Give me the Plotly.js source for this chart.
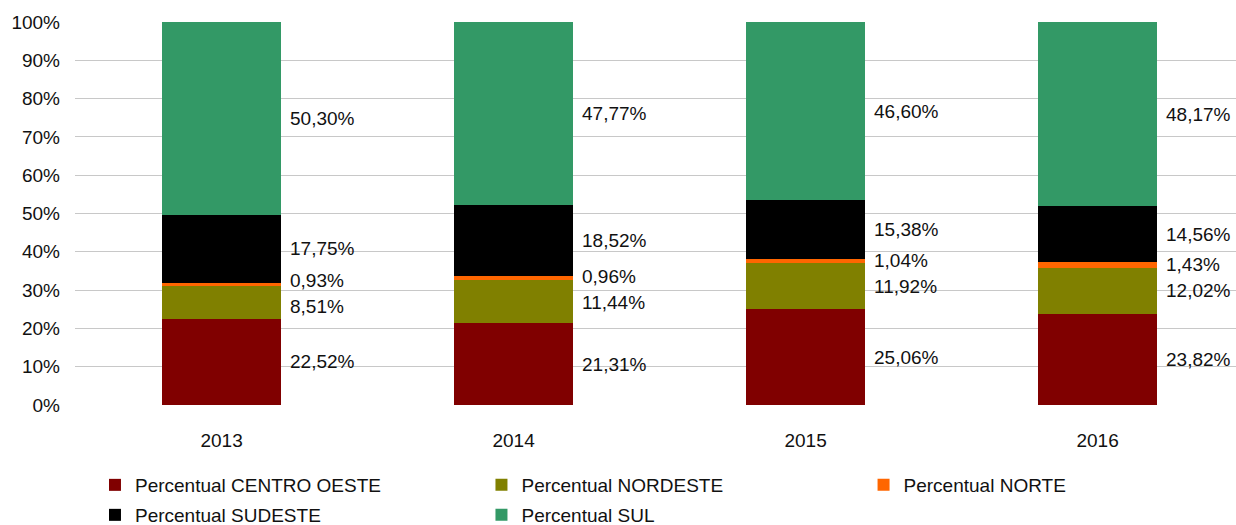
<!DOCTYPE html>
<html>
<head>
<meta charset="utf-8">
<script src="https://cdn.plot.ly/plotly-3.0.1.min.js"></script>
<style>html,body{margin:0;padding:0;background:#fff;}#chart{width:1236px;height:525px;}</style>
</head>
<body>
<div id="chart"></div>
<script>
var years = ['2013', '2014', '2015', '2016'];
var seriesNames = ['Percentual CENTRO OESTE', 'Percentual NORDESTE', 'Percentual NORTE', 'Percentual SUDESTE', 'Percentual SUL'];
var centroOeste = [22.52, 21.31, 25.06, 23.82];
var nordeste = [8.51, 11.44, 11.92, 12.02];
var norte = [0.93, 0.96, 1.04, 1.43];
var sudeste = [17.75, 18.52, 15.38, 14.56];
var sul = [50.30, 47.77, 46.60, 48.17];
var colors = ['#800000', '#808000', '#ff6600', '#000000', '#339966'];
var yTicks = [0, 10, 20, 30, 40, 50, 60, 70, 80, 90, 100];

var allSeries = [centroOeste, nordeste, norte, sudeste, sul];
var fontFam = '"Liberation Sans", Arial, sans-serif';

// legend grid: column x (paper) and row y (paper) for each series
var legendIds = ['legend', 'legend2', 'legend3', 'legend4', 'legend5'];
var legendX = [0.0172, 0.3501, 0.6792, 0.0172, 0.3501];
var legendY = [-0.2089, -0.2089, -0.2089, -0.2872, -0.2872];

function fmt(v) { return v.toFixed(2).replace('.', ',') + '%'; }

var traces = allSeries.map(function (vals, i) {
  return {
    type: 'bar',
    name: seriesNames[i],
    x: years,
    y: vals,
    width: 0.407,
    legend: legendIds[i],
    marker: { color: colors[i], line: { width: 0 } },
    hoverinfo: 'skip'
  };
});

// label positions: segment centres, pushed apart when too close
var annotations = [];
var minGap = 6.8;
years.forEach(function (yr, j) {
  var base = 0, pos = [];
  allSeries.forEach(function (vals) {
    pos.push(base + vals[j] / 2);
    base += vals[j];
  });
  for (var k = 0; k < pos.length - 1; k++) {
    var gap = pos[k + 1] - pos[k];
    if (gap < minGap) {
      var d = (minGap - gap) / 2;
      pos[k] -= d;
      pos[k + 1] += d;
    }
  }
  allSeries.forEach(function (vals, i) {
    annotations.push({
      x: j, y: pos[i], xref: 'x', yref: 'y',
      text: fmt(vals[j]), showarrow: false,
      xanchor: 'left', yanchor: 'middle', xshift: 66,
      font: { family: fontFam, size: 19, color: '#111' }
    });
  });
});

var layout = {
  width: 1236, height: 525,
  margin: { l: 75, r: 0, t: 22, b: 120, autoexpand: false },
  paper_bgcolor: '#fff', plot_bgcolor: '#fff',
  barmode: 'stack',
  font: { family: fontFam, size: 19, color: '#111' },
  showlegend: true,
  xaxis: {
    type: 'category', range: [-0.502, 3.474], showgrid: false, zeroline: false,
    showline: false, ticks: '', ticklabelstandoff: 22, fixedrange: true
  },
  yaxis: {
    range: [0, 100], tickvals: yTicks, ticktext: yTicks.map(function (v) { return v + '%'; }),
    showgrid: true, gridcolor: '#c8c8c8', gridwidth: 1, zeroline: false, showline: false,
    ticks: '', ticklabelstandoff: 14, fixedrange: true
  },
  annotations: annotations
};

legendIds.forEach(function (id, i) {
  layout[id] = {
    orientation: 'h', xanchor: 'left', yanchor: 'middle',
    x: legendX[i], y: legendY[i],
    bgcolor: 'rgba(0,0,0,0)',
    font: { family: fontFam, size: 19, color: '#111' }
  };
});

Plotly.newPlot('chart', traces, layout, { displayModeBar: false, staticPlot: true });
</script>
</body>
</html>
